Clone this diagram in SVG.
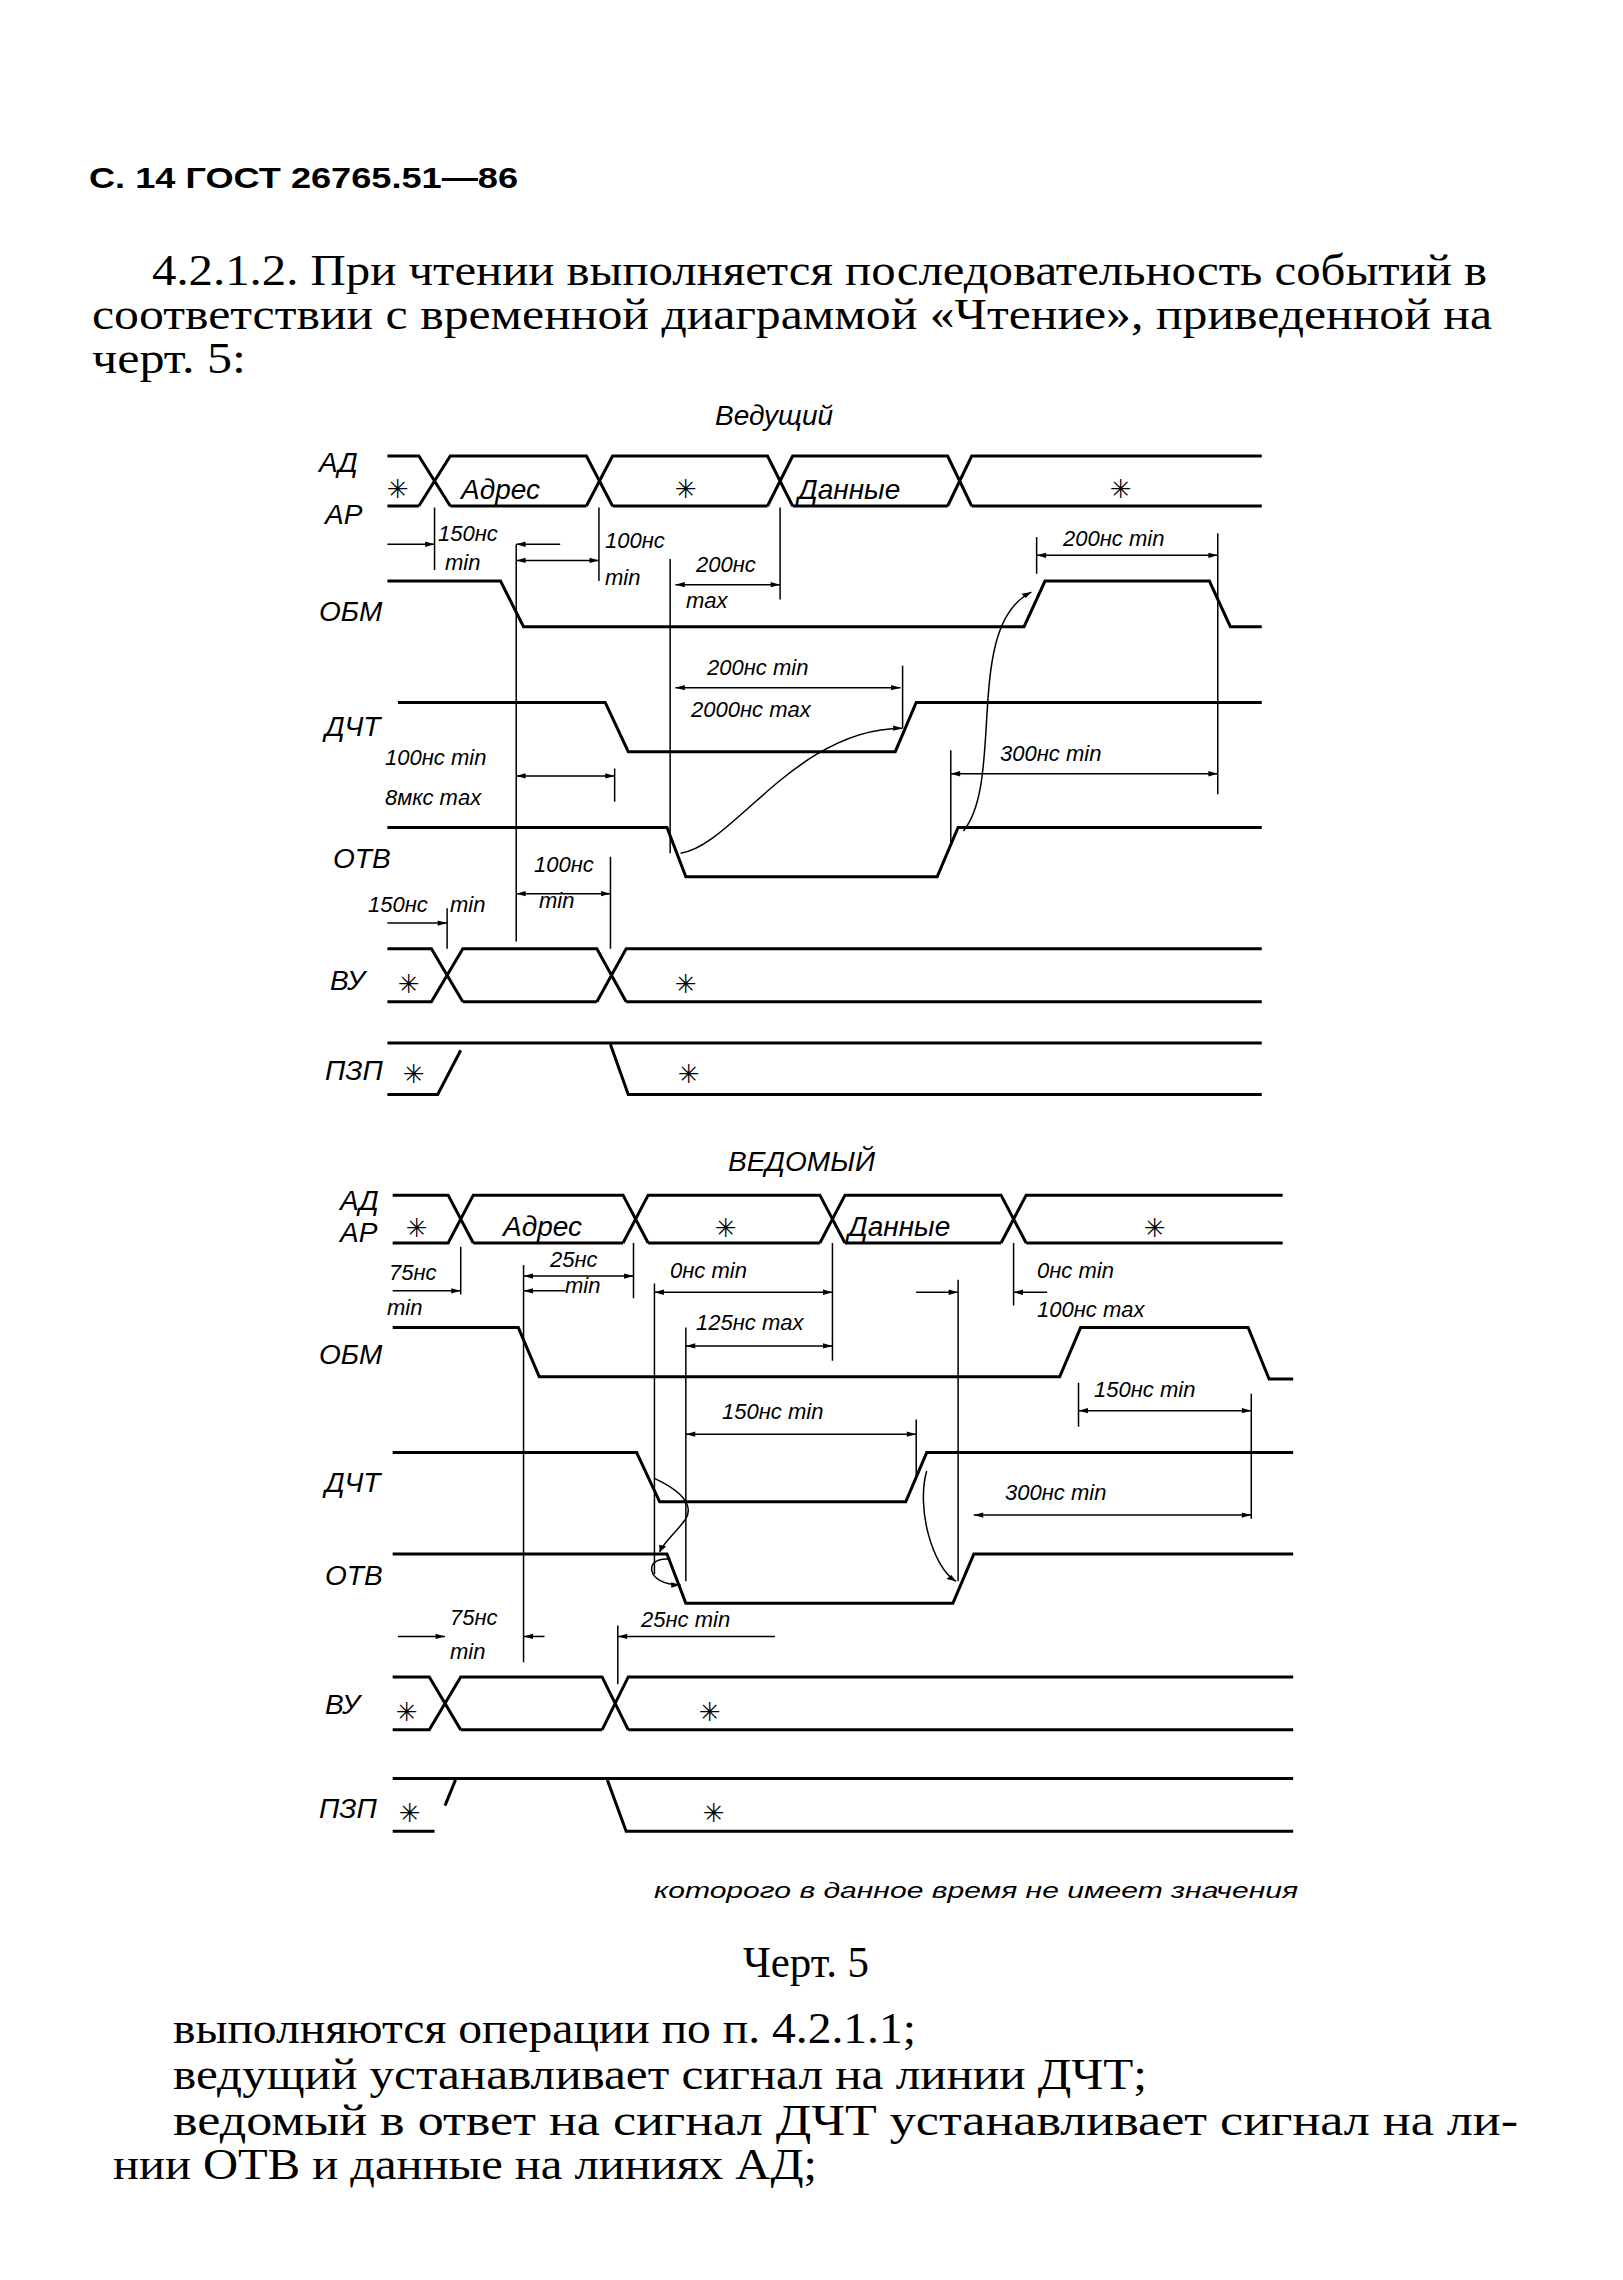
<svg xmlns="http://www.w3.org/2000/svg" width="1623" height="2280" viewBox="0 0 1623 2280">
<style>
.l{fill:none;stroke:#000;stroke-width:3;vector-effect:non-scaling-stroke}
.d{fill:none;stroke:#000;stroke-width:1.5;vector-effect:non-scaling-stroke}
.dl{fill:none;stroke:#000;stroke-width:1.5;vector-effect:non-scaling-stroke;marker-end:url(#a)}
.db{fill:none;stroke:#000;stroke-width:1.5;vector-effect:non-scaling-stroke;marker-start:url(#a);marker-end:url(#a)}
.b{font-family:"Liberation Serif",serif;font-size:44px;fill:#000}
.h{font-family:"Liberation Sans",sans-serif;font-size:30px;font-weight:bold;fill:#000}
.t{font-family:"Liberation Sans",sans-serif;font-style:italic;font-size:28px;fill:#000}
.s{font-family:"Liberation Sans",sans-serif;font-size:22px;font-style:italic;fill:#000}
.st{font-family:"DejaVu Sans",sans-serif;font-size:26px;fill:#000}
</style>
<defs>
<marker id="a" viewBox="0 0 10 10" refX="10" refY="5" markerWidth="11" markerHeight="9" orient="auto-start-reverse" markerUnits="userSpaceOnUse"><path d="M0,1 L10,5 L0,9 z" fill="#000"/></marker>
</defs>
<rect width="1623" height="2280" fill="#fff"/>
<g id="texts">
<text class="h" x="89" y="188" textLength="429" lengthAdjust="spacingAndGlyphs">С. 14 ГОСТ 26765.51—86</text>
<text class="b" x="152" y="285" textLength="1335" lengthAdjust="spacingAndGlyphs">4.2.1.2. При чтении выполняется последовательность событий в</text>
<text class="b" x="92" y="329" textLength="1400" lengthAdjust="spacingAndGlyphs">соответствии с временной диаграммой «Чтение», приведенной на</text>
<text class="b" x="92" y="373" textLength="154" lengthAdjust="spacingAndGlyphs">черт. 5:</text>
<text class="t" x="715" y="425">Ведущий</text>
<text class="t" x="728" y="1171">ВЕДОМЫЙ</text>
<text class="s" x="654" y="1898" textLength="644" lengthAdjust="spacingAndGlyphs">которого в данное время не имеет значения</text>
<text class="b" x="743" y="1977" textLength="126" lengthAdjust="spacingAndGlyphs">Черт. 5</text>
<text class="b" x="173" y="2043" textLength="743" lengthAdjust="spacingAndGlyphs">выполняются операции по п. 4.2.1.1;</text>
<text class="b" x="173" y="2089" textLength="974" lengthAdjust="spacingAndGlyphs">ведущий устанавливает сигнал на линии ДЧТ;</text>
<text class="b" x="173" y="2135" textLength="1345" lengthAdjust="spacingAndGlyphs">ведомый в ответ на сигнал ДЧТ устанавливает сигнал на ли-</text>
<text class="b" x="113" y="2179" textLength="704" lengthAdjust="spacingAndGlyphs">нии ОТВ и данные на линиях АД;</text>
</g>
<g id="master-labels">
<text class="t" x="319" y="472">АД</text><text class="t" x="325" y="524">АР</text>
<text class="st" x="387" y="498">✳</text><text class="t" x="461" y="499">Адрес</text><text class="st" x="675" y="498">✳</text><text class="t" x="798" y="499">Данные</text><text class="st" x="1110" y="498">✳</text>
<text class="t" x="319" y="621">ОБМ</text><text class="t" x="325" y="736">ДЧТ</text><text class="t" x="333" y="868">ОТВ</text>
<text class="t" x="330" y="990">ВУ</text><text class="st" x="398" y="993">✳</text><text class="st" x="675" y="993">✳</text>
<text class="t" x="325" y="1080">ПЗП</text><text class="st" x="403" y="1083">✳</text><text class="st" x="678" y="1083">✳</text>
<text class="s" x="438" y="541">150нс</text><text class="s" x="445" y="570">min</text>
<text class="s" x="605" y="548">100нс</text><text class="s" x="605" y="585">min</text>
<text class="s" x="696" y="572">200нс</text><text class="s" x="686" y="608">max</text>
<text class="s" x="1063" y="546">200нс min</text>
<text class="s" x="707" y="675">200нс min</text><text class="s" x="691" y="717">2000нс max</text>
<text class="s" x="385" y="765">100нс min</text><text class="s" x="385" y="805">8мкс max</text>
<text class="s" x="1000" y="761">300нс min</text>
<text class="s" x="534" y="872">100нс</text><text class="s" x="539" y="908">min</text>
<text class="s" x="368" y="912">150нс</text><text class="s" x="450" y="912">min</text>
</g>
<g id="slave-labels">
<text class="t" x="340" y="1210">АД</text><text class="t" x="340" y="1242">АР</text>
<text class="st" x="406" y="1237">✳</text><text class="t" x="503" y="1236">Адрес</text><text class="st" x="715" y="1237">✳</text><text class="t" x="848" y="1236">Данные</text><text class="st" x="1144" y="1237">✳</text>
<text class="t" x="319" y="1364">ОБМ</text><text class="t" x="325" y="1492">ДЧТ</text><text class="t" x="325" y="1585">ОТВ</text>
<text class="t" x="325" y="1714">ВУ</text><text class="st" x="396" y="1721">✳</text><text class="st" x="699" y="1721">✳</text>
<text class="t" x="319" y="1818">ПЗП</text><text class="st" x="399" y="1822">✳</text><text class="st" x="703" y="1822">✳</text>
<text class="s" x="389" y="1280">75нс</text><text class="s" x="387" y="1315">min</text>
<text class="s" x="550" y="1267">25нс</text><text class="s" x="565" y="1293">min</text>
<text class="s" x="670" y="1278">0нс min</text><text class="s" x="696" y="1330">125нс max</text>
<text class="s" x="1037" y="1278">0нс min</text><text class="s" x="1037" y="1317">100нс max</text>
<text class="s" x="1094" y="1397">150нс min</text><text class="s" x="722" y="1419">150нс min</text>
<text class="s" x="1005" y="1500">300нс min</text>
<text class="s" x="450" y="1625">75нс</text><text class="s" x="450" y="1659">min</text>
<text class="s" x="641" y="1627">25нс min</text>
</g>
<g id="top" transform="scale(1.0471,0.7355)">
<path id="master-bus" class="l" d="M370,620 H400 L430,688 M400,688 L430,620 H560 L585,688 M560,688 L585,620 H733 L757,688 M733,688 L757,620 H905 L928,688 M905,688 L928,620 H1205 M370,688 H400 M430,688 H560 M585,688 H733 M757,688 H905 M928,688 H1205"/>
<path id="master-obm" class="l" d="M370,790 H478 L500,852 H978 L998,790 H1155 L1175,852 H1205"/>
<path id="master-dcht" class="l" d="M380,955 H578 L600,1022 H855 L875,955 H1205"/>
<path id="master-otv" class="l" d="M370,1125 H637 L655,1192 H895 L915,1125 H1205"/>
<path id="master-vu" class="l" d="M370,1290 H412 L442,1362 M370,1362 H412 L442,1290 H570 L598,1362 M570,1362 L598,1290 H1205 M442,1362 H570 M598,1362 H1205"/>
<path id="master-pzp" class="l" d="M370,1418 H1205 M370,1488 H418 L440,1428 M583,1420 L600,1488 H1205"/>
<g id="master-connectors">
<path class="d" d="M415,690 V775 M493,740 V1280 M572,690 V790 M640,760 V1160 M745,690 V815 M990,730 V780 M1163,725 V1080 M862,905 V990 M587,1045 V1090 M908,1020 V1150 M583,1165 V1290 M427,1235 V1290"/>
<path class="dl" d="M370,740 H415"/><path class="dl" d="M535,740 H493"/>
<path class="db" d="M493,762 H572"/><path class="db" d="M645,795 H745"/>
<path class="db" d="M990,755 H1163"/><path class="db" d="M645,935 H860"/>
<path class="db" d="M493,1055 H587"/><path class="db" d="M908,1052 H1163"/>
<path class="db" d="M493,1215 H583"/><path class="dl" d="M370,1255 H427"/>
<path class="dl" d="M650,1160 C700,1150 760,990 862,990"/>
<path class="dl" d="M920,1130 C960,1060 920,850 985,805"/>
</g>
</g>
<g id="bottom" transform="translate(0,1140) scale(1.0471,0.7355)">
<path id="slave-bus" class="l" d="M375,75 H428 L452,140 M375,140 H428 L452,75 H595 L619,140 M595,140 L619,75 H783 L807,140 M783,140 L807,75 H956 L980,140 M956,140 L980,75 H1225 M452,140 H595 M619,140 H783 M807,140 H956 M980,140 H1225"/>
<path id="slave-obm" class="l" d="M375,255 H495 L515,322 H1012 L1032,255 H1192 L1212,325 H1235"/>
<path id="slave-dcht" class="l" d="M375,425 H608 L630,492 H865 L885,425 H1235"/>
<path id="slave-otv" class="l" d="M375,563 H637 L655,630 H910 L930,563 H1235"/>
<path id="slave-vu" class="l" d="M375,730 H410 L440,802 M375,802 H410 L440,730 H575 L600,802 M575,802 L600,730 H1235 M440,802 H575 M600,802 H1235"/>
<path id="slave-pzp" class="l" d="M375,868 H1235 M375,940 H415 M425,905 L435,870 M580,870 L598,940 H1235"/>
<g id="slave-connectors">
<path class="d" d="M440,145 V210 M500,170 V710 M605,140 V215 M625,195 V590 M795,140 V300 M655,255 V600 M915,190 V600 M968,140 V225 M1030,330 V390 M1195,345 V515 M875,380 V460 M590,660 V740"/>
<path class="dl" d="M375,205 H440"/>
<path class="db" d="M500,185 H605"/><path class="dl" d="M540,205 H500"/>
<path class="db" d="M625,207 H795"/><path class="db" d="M655,280 H795"/>
<path class="dl" d="M875,207 H915"/><path class="dl" d="M1000,207 H968"/>
<path class="db" d="M1030,368 H1195"/><path class="db" d="M655,400 H875"/>
<path class="db" d="M930,510 H1195"/>
<path class="dl" d="M380,675 H425"/><path class="dl" d="M520,675 H500"/><path class="dl" d="M740,675 H590"/>
<path class="dl" d="M625,460 C640,470 665,490 655,515 C645,535 635,545 630,560"/>
<path class="dl" d="M640,570 C615,565 615,605 650,605"/>
<path class="dl" d="M885,450 C875,500 890,580 913,600"/>
</g>
</g>
</svg>
